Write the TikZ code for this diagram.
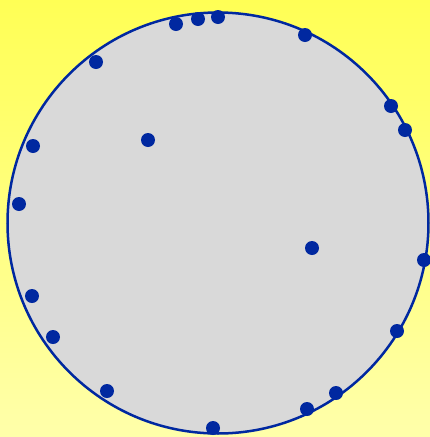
\documentclass[tikz,border=0pt]{standalone}
\definecolor{rim}{RGB}{0,40,160}
\definecolor{disc}{RGB}{217,217,217}
\definecolor{ytop}{RGB}{255,255,85}
\definecolor{ybot}{RGB}{255,255,170}
\tikzset{
  dot/.style={circle,fill=rim,draw=none,inner sep=0pt,minimum size=14pt},
  bigdisc/.style={circle,fill=disc,draw=rim,line width=2.5pt,inner sep=0pt,minimum size=421pt}
}
\begin{document}
\begin{tikzpicture}[x=1pt,y=-1pt]
\useasboundingbox (0,0) rectangle (430,437);
\shade[top color=ytop,bottom color=ybot] (0,0) rectangle (430,437);
\node[bigdisc] (C) at (218,223) {};
\foreach \x/\y [count=\i] in {176/24,198/19,218/17,305/35,96/62,391/106,405/130,148/140,33/146,19/204,312/248,424/260,32/296,53/337,397/331,107/391,336/393,307/409,213/428}
  \node[dot] (d\i) at (\x,\y) {};
\end{tikzpicture}
\end{document}
